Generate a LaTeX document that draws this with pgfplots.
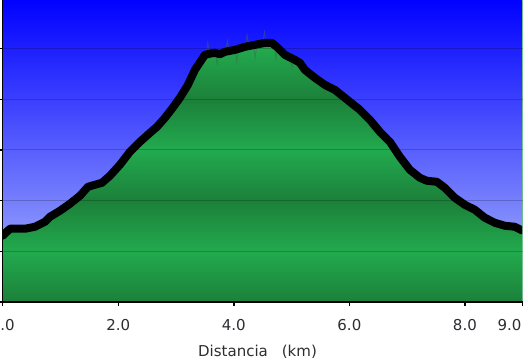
\documentclass[border=0pt]{standalone}
\usepackage{fontspec}
\setmainfont{DejaVu Sans}
\usepackage{pgfplots}
\pgfplotsset{compat=1.18}
\definecolor{gdark}{RGB}{28,128,58}
\definecolor{glight}{RGB}{34,170,78}
\definecolor{btop}{RGB}{0,0,255}
\definecolor{bbot}{RGB}{138,149,252}
\definecolor{lbl}{RGB}{45,45,50}
\definecolor{noise}{RGB}{70,100,80}
\definecolor{redge}{RGB}{160,215,180}
\pgfdeclareverticalshading{greenbands}{100bp}{color(0bp)=(gdark); color(25bp)=(gdark); color(33.333bp)=(glight); color(41.667bp)=(gdark); color(50bp)=(glight); color(58.333bp)=(gdark); color(66.667bp)=(glight); color(75bp)=(gdark); color(100bp)=(gdark)}
\pgfplotstableread{
x y
0.000 130.8
0.126 144.6
0.386 144.6
0.559 148.5
0.732 158.4
0.818 168.2
0.991 180.1
1.164 193.9
1.337 209.7
1.476 227.4
1.597 231.4
1.718 235.3
1.856 249.1
2.029 270.8
2.202 296.5
2.376 316.2
2.549 333.9
2.670 345.8
2.808 363.5
2.929 381.3
3.067 403.0
3.206 428.6
3.327 458.2
3.500 487.8
3.600 490.5
3.673 491.7
3.760 489.0
3.846 493.7
4.019 497.6
4.192 503.6
4.365 507.5
4.538 511.4
4.659 511.4
4.763 501.6
4.884 487.8
5.057 477.9
5.144 472.0
5.230 458.2
5.403 442.4
5.576 428.6
5.749 418.7
5.922 403.0
6.095 387.2
6.182 379.3
6.355 359.6
6.528 335.9
6.701 316.2
6.874 286.6
7.047 261.0
7.220 245.2
7.341 239.3
7.514 237.3
7.652 225.4
7.825 205.7
7.998 191.9
8.171 182.1
8.344 166.3
8.517 156.4
8.690 150.5
8.863 148.5
8.967 142.6
9.000 141.0
}\profile
\pgfplotstableread{
x y
3.52 488
3.55 512
3.58 488
3.68 492
3.71 470
3.74 492
3.86 494
3.89 516
3.92 495
4.02 498
4.05 474
4.08 499
4.20 504
4.23 527
4.26 505
4.34 507
4.37 482
4.40 508
4.50 510
4.53 533
4.56 511
4.70 508
4.73 480
4.76 502
4.98 483
5.01 462
5.04 481
5.55 430
5.58 410
5.61 428
}\noisy
\begin{document}
\begin{tikzpicture}
\begin{axis}[
  at={(0,0)}, anchor=south west,
  scale only axis, width=520bp, height=304bp,
  xmin=0, xmax=9, ymin=0, ymax=600,
  axis on top,
  axis x line*=bottom, axis y line*=left,
  axis line style={black, line width=1.5bp, -},
  xtick={0,2,4,6,8}, xticklabels={0.0,2.0,4.0,6.0,8.0},
  extra x ticks={9}, extra x tick labels={9.0},
  extra x tick style={grid=none, xticklabel style={anchor=base east, xshift=-1bp}},
  ytick={0,100,...,600}, yticklabels={},
  ymajorgrids,
  major grid style={black, opacity=0.2, line width=1bp},
  tick align=outside, major tick length=4bp,
  tick style={black, line width=1.5bp},
  xticklabel style={font=\fontsize{15bp}{18bp}\selectfont, text=lbl, inner sep=0pt, anchor=base, yshift=-24.5bp},
  xlabel={Distancia\hspace{14bp}(km)},
  xlabel style={font=\fontsize{15bp}{18bp}\selectfont, text=lbl, inner sep=0pt, anchor=base, at={(axis description cs:0.49,0)}, yshift=-54bp},
  axis background/.style={shade, shading=greenbands},
]
\addplot[draw=none, top color=btop, bottom color=bbot] table {\profile} -- (axis cs:9,600) -- (axis cs:0,600) -- cycle;
\addplot[noise, opacity=0.5, line width=0.8bp] table {\noisy};
\addplot[black, line width=8bp, line join=round, line cap=round] table {\profile};
\draw[redge, line width=1.5bp] (rel axis cs:1,0) -- (rel axis cs:1,1);
\end{axis}
\pgfresetboundingbox
\useasboundingbox (-2.7bp,-58bp) rectangle (525.3bp,302bp);
\end{tikzpicture}
\end{document}
